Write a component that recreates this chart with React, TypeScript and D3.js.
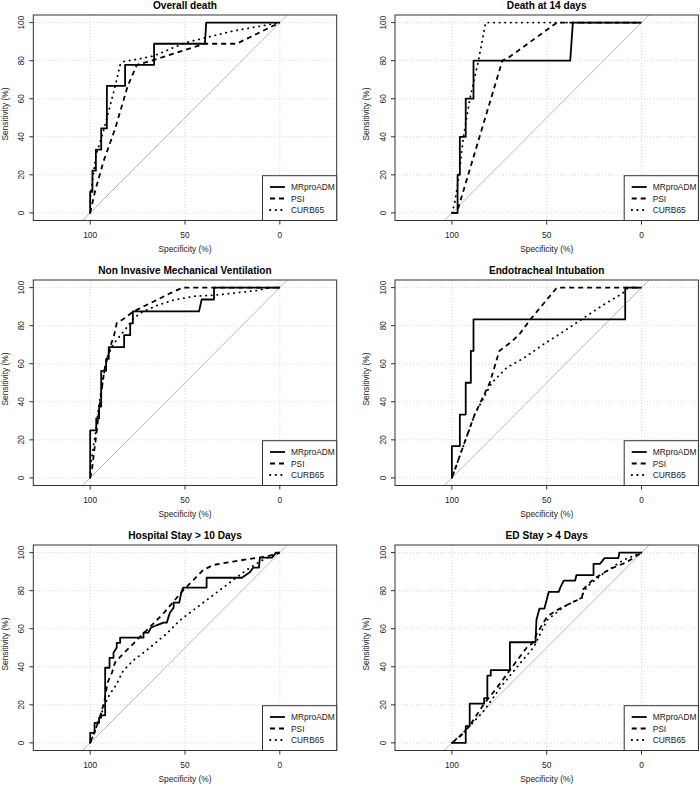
import React from "react";
import * as d3 from "d3";

type Pt = [number, number];

const titles = [
  "Overall death",
  "Death at 14 days",
  "Non Invasive Mechanical Ventilation",
  "Endotracheal Intubation",
  "Hospital Stay > 10 Days",
  "ED Stay > 4 Days",
];
const seriesNames = ["MRproADM", "PSI", "CURB65"];
const xTicks = [100, 50, 0];
const yTicks = [0, 20, 40, 60, 80, 100];

// [specificity, sensitivity]
const overallMr: Pt[] = [[100,0],[100,11.1],[98.8,11.1],[98.8,22.2],[97,22.2],[97,33.3],[94.2,33.3],[94.2,44.4],[91.2,44.4],[91.2,66.7],[81.6,66.7],[81.6,77.8],[66.3,77.8],[66.3,88.9],[39.5,88.9],[38.8,100],[0,100]];
const overallPsi: Pt[] = [[100,0],[97.5,11.1],[93,27],[86.8,44.4],[80.2,66.7],[75.4,77.8],[66,80.5],[55,84],[39.5,88.9],[22.8,88.9],[0,100]];
const overallCurb: Pt[] = [[100,0],[100,8],[97,30],[92.6,44.4],[86.8,66.7],[84.2,77.8],[82.5,79.5],[75,80.8],[66.7,82.4],[50,89.4],[24.6,95.6],[0,100]];

const d14Mr: Pt[] = [[100,0],[97,0],[97,20],[95.8,20],[95.8,40],[92.7,40],[92.7,60],[88.6,60],[88.6,80],[37.6,80],[36.2,100],[0,100]];
const d14Psi: Pt[] = [[100,0],[97.4,0],[73.4,80],[71,81],[44.6,100],[0,100]];
const d14Curb: Pt[] = [[100,0],[98.5,5],[96.2,20],[93.9,40],[90.5,60],[86,80],[82.2,100],[0,100]];

const nimvMr: Pt[] = [[100,0],[100,25],[96.8,25],[96.8,31.25],[95.3,31.25],[95.3,37.5],[94.2,37.5],[94.2,56.25],[91.6,56.25],[91.6,62.5],[90.2,62.5],[90.2,68.75],[82.1,68.75],[82.1,75],[78.9,75],[78.9,81.25],[77.5,81.25],[77.5,87.5],[42.6,87.5],[41.2,93.75],[34.7,93.75],[34.7,100],[0,100]];
const nimvPsi: Pt[] = [[100,0],[99,5],[96.5,25],[95.1,37.5],[92.6,56.25],[89.5,68.75],[87.4,75],[86,81.25],[82.5,83.5],[77.2,87.5],[64.9,93.5],[57.9,97],[51.2,100],[0,100]];
const nimvCurb: Pt[] = [[100,0],[100,5],[97,25],[95.5,37.5],[93.5,50],[91.5,62.5],[88,70],[84,75],[80,80],[77,84],[72,87.5],[65,90.5],[56,93.5],[45,95.5],[35,96],[25,97],[12,98.5],[5,100],[0,100]];

const etMr: Pt[] = [[100,0],[100,16.7],[95.8,16.7],[95.8,33.3],[92.7,33.3],[92.7,50],[90,50],[90,66.7],[88.6,66.7],[88.6,83.3],[8.6,83.3],[8.6,100],[0,100]];
const etPsi: Pt[] = [[100,0],[88,33.3],[80,50],[75,66.7],[68,72],[64,76],[58.6,83.3],[44.6,100],[0,100]];
const etCurb: Pt[] = [[100,0],[88,33.3],[79,50],[71,58],[62,63],[52,70],[41,77],[30.6,84],[20,91],[10,97],[7,100],[0,100]];

const hsMr: Pt[] = [[100,0],[100,5.3],[97.7,5.3],[97.7,10.5],[95.3,10.5],[95.3,13.2],[94.2,13.2],[94.2,14.5],[92.1,14.5],[92.1,39.5],[89.8,39.5],[89.8,44.7],[87.7,44.7],[87.7,47.4],[86,50],[86,52.6],[84.2,52.6],[84.2,55.3],[71.9,55.3],[71.9,57.9],[69.3,57.9],[68,60.5],[65,61.8],[61.4,63.2],[59.6,63.2],[58,68.4],[56,71],[56,73.7],[53,73.7],[52,78.9],[51,81.6],[38.6,81.6],[38.6,86.8],[20,86.8],[16,89.5],[14,92.1],[11,92.1],[10.5,97.4],[4,97.4],[2,100],[0,100]];
const hsPsi: Pt[] = [[100,0],[98,5],[95,13],[92.5,22],[90.9,31.5],[88.5,37],[86.8,42.5],[82.5,46.9],[77.2,52.2],[71.9,57.5],[66.7,62.7],[61.4,68],[56.1,74.2],[50.9,80.3],[45.6,85.6],[40.4,90.9],[35.1,93.5],[24.6,95.3],[14,97],[7,97.9],[0,100]];
const hsCurb: Pt[] = [[100,0],[98,5],[95,13],[92.5,20],[90,25],[86,31],[82.5,38.1],[77.2,43.4],[70.2,48.7],[64.9,53.1],[59.6,57.5],[52.6,64.5],[45.6,69.8],[38.6,75],[31.6,80.3],[24.6,85.6],[17.5,90.9],[10.5,95.3],[5.3,98],[0,100]];

const edMr: Pt[] = [[100,0],[92.7,0],[92.7,8.8],[90.6,8.8],[90.6,20.6],[83,20.6],[83,23.5],[81.3,23.5],[81.3,35.3],[79.5,35.3],[79.5,38.2],[69.4,38.2],[69.4,52.9],[55.9,52.9],[55.4,64.7],[53.8,70.6],[51.2,70.6],[48.9,79.4],[43.7,79.4],[42.5,82.4],[41,85.3],[35,85.3],[34.3,88.2],[25.3,88.2],[25.3,94.1],[21.9,94.1],[19.5,97.1],[12.2,97.1],[11.7,100],[0,100]];
const edPsi: Pt[] = [[100,0],[95,4],[90,10],[83,20.6],[76,29.3],[70.8,36.4],[65.6,43.4],[60.3,50.4],[57.7,52.2],[55.1,57.5],[49.8,66.3],[44.6,69.8],[35.8,74.2],[31.5,76],[30.6,80.9],[28.8,82.6],[25.3,86.1],[16.6,91.4],[7.9,94.9],[0,100]];
const edCurb: Pt[] = [[100,0],[92.7,6.5],[83,17],[74.3,29.3],[65.6,39.9],[56.8,50.4],[49.8,64.5],[41,71.5],[32.3,75.9],[28.8,82.1],[20,89.1],[9.6,96.1],[0,100]];

const panelSeries: Pt[][][] = [
  [overallMr, overallPsi, overallCurb],
  [d14Mr, d14Psi, d14Curb],
  [nimvMr, nimvPsi, nimvCurb],
  [etMr, etPsi, etCurb],
  [hsMr, hsPsi, hsCurb],
  [edMr, edPsi, edCurb],
];

const colOff = [0, 361.7];
const rowOff = [0, 265, 530];
const box = { l: 33.3, r: 336.7, t: 15, b: 220.5 };
const FONT = "'Liberation Sans', Arial, Helvetica, sans-serif";
const dashes = [undefined, "5,4", "0.4,5.2"];
const caps = ["butt", "butt", "round"];

function Panel({ idx }: { idx: number }) {
  const col = idx % 2;
  const row = Math.floor(idx / 2);
  const x = d3.scaleLinear().domain([130, -30]).range([box.l, box.r]);
  const y = d3.scaleLinear().domain([-4, 104]).range([box.b, box.t]);
  const line = d3.line<Pt>().x((d) => x(d[0])).y((d) => y(d[1]));
  const clipId = `clip${idx}`;
  const cx = (box.l + box.r) / 2;
  const legL = 262.5;
  const legT = 175.7;
  const rowsY = [187, 198.5, 210];
  return (
    <g transform={`translate(${colOff[col]},${rowOff[row]})`}>
      <defs>
        <clipPath id={clipId}>
          <rect x={box.l} y={box.t} width={box.r - box.l} height={box.b - box.t} />
        </clipPath>
      </defs>
      <text x={cx} y={9.3} textAnchor="middle" fontFamily={FONT} fontWeight="bold" fontSize={10.1}>
        {titles[idx]}
      </text>
      {/* grid */}
      {yTicks.map((t) => (
        <line key={"gy" + t} x1={box.l} x2={box.r} y1={y(t)} y2={y(t)} stroke="#d6d6d6" strokeWidth={1} strokeDasharray="1,2" />
      ))}
      {xTicks.map((t) => (
        <line key={"gx" + t} x1={x(t)} x2={x(t)} y1={box.t} y2={box.b} stroke="#d6d6d6" strokeWidth={1} strokeDasharray="1,2" />
      ))}
      <g clipPath={`url(#${clipId})`}>
        <path d={line([[130, -30], [-30, 130]]) || ""} stroke="#b0b0b0" strokeWidth={0.9} fill="none" />
        {panelSeries[idx].map((s, i) => (
          <path
            key={i}
            d={line(s) || ""}
            fill="none"
            stroke="#000"
            strokeWidth={1.8}
            strokeDasharray={dashes[i]}
            strokeLinecap={caps[i] as any}
            strokeLinejoin="round"
          />
        ))}
      </g>
      <rect x={box.l} y={box.t} width={box.r - box.l} height={box.b - box.t} fill="none" stroke="#333" strokeWidth={1} />
      {/* x axis */}
      {xTicks.map((t) => (
        <g key={"xt" + t}>
          <line x1={x(t)} x2={x(t)} y1={box.b} y2={box.b + 4} stroke="#333" strokeWidth={1} />
          <text x={x(t)} y={238.3} textAnchor="middle" fontFamily={FONT} fontSize={8.4} fill="#222">
            {t}
          </text>
        </g>
      ))}
      <text x={cx} y={252} textAnchor="middle" fontFamily={FONT} fontSize={8.4} fill="#222">
        Specificity (%)
      </text>
      {/* y axis */}
      {yTicks.map((t) => (
        <g key={"yt" + t}>
          <line x1={box.l - 4} x2={box.l} y1={y(t)} y2={y(t)} stroke="#333" strokeWidth={1} />
          <text
            transform={`translate(24,${y(t)}) rotate(-90)`}
            textAnchor="middle"
            fontFamily={FONT}
            fontSize={8.4}
            fill="#222"
          >
            {t}
          </text>
        </g>
      ))}
      <text transform={`translate(7.7,114) rotate(-90)`} textAnchor="middle" fontFamily={FONT} fontSize={8.4} fill="#222">
        Sensitivity (%)
      </text>
      {/* legend */}
      <rect x={legL} y={legT} width={box.r - legL} height={box.b - legT} fill="#fff" stroke="#333" strokeWidth={1} />
      {seriesNames.map((n, i) => (
        <g key={n}>
          <line
            x1={270}
            x2={285}
            y1={rowsY[i]}
            y2={rowsY[i]}
            stroke="#000"
            strokeWidth={1.8}
            strokeDasharray={dashes[i]}
            strokeLinecap={caps[i] as any}
          />
          <text x={291} y={rowsY[i] + 3} fontFamily={FONT} fontSize={8.4} fill="#222">
            {n}
          </text>
        </g>
      ))}
    </g>
  );
}

export default function App() {
  return (
    <svg
      width={700}
      height={786}
      style={{ position: "absolute", left: 0, top: 0, background: "#fff" }}
      xmlns="http://www.w3.org/2000/svg"
    >
      <rect width={700} height={786} fill="#fff" />
      {titles.map((_, i) => (
        <Panel key={i} idx={i} />
      ))}
    </svg>
  );
}
